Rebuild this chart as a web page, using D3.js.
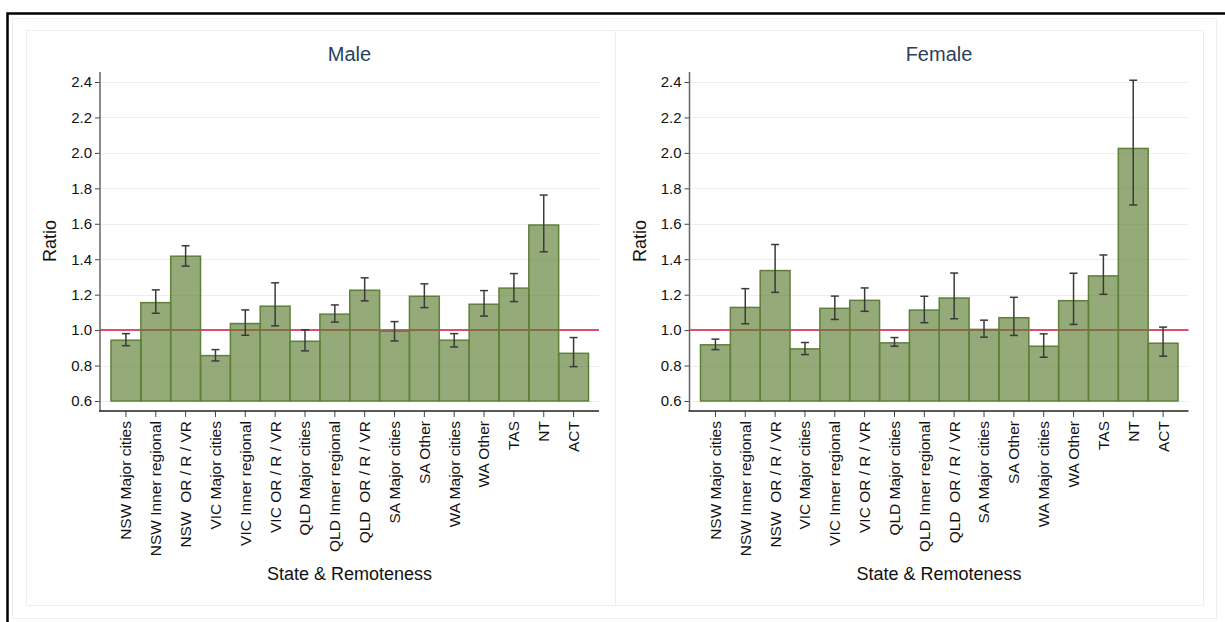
<!DOCTYPE html>
<html>
<head>
<meta charset="utf-8">
<script src="https://cdn.jsdelivr.net/npm/d3@7"></script>
<style>
  body { margin: 0; background: #fff; }
  text { font-family: Arial, "Liberation Sans", sans-serif; }
</style>
</head>
<body>
<div id="chart"></div>
<script>
// categories and values
var categories = ["NSW Major cities", "NSW Inner regional", "NSW  OR / R / VR", "VIC Major cities",
  "VIC Inner regional", "VIC OR / R / VR", "QLD Major cities", "QLD Inner regional",
  "QLD  OR / R / VR", "SA Major cities", "SA Other", "WA Major cities", "WA Other", "TAS", "NT", "ACT"];

var maleRatio = [0.943, 1.155, 1.417, 0.856, 1.037, 1.135, 0.937, 1.090, 1.225, 0.994, 1.191, 0.943, 1.146, 1.237, 1.593, 0.869];
var maleLower = [0.912, 1.095, 1.361, 0.826, 0.971, 1.024, 0.883, 1.045, 1.165, 0.939, 1.127, 0.905, 1.079, 1.161, 1.442, 0.794];
var maleUpper = [0.980, 1.227, 1.476, 0.890, 1.114, 1.267, 1.002, 1.142, 1.295, 1.048, 1.261, 0.980, 1.223, 1.319, 1.762, 0.958];

var femaleRatio = [0.917, 1.128, 1.336, 0.894, 1.123, 1.168, 0.928, 1.113, 1.181, 1.004, 1.070, 0.909, 1.166, 1.306, 2.025, 0.926];
var femaleLower = [0.890, 1.036, 1.213, 0.862, 1.060, 1.106, 0.909, 1.042, 1.064, 0.960, 0.970, 0.847, 1.032, 1.202, 1.706, 0.853];
var femaleUpper = [0.949, 1.234, 1.483, 0.930, 1.192, 1.238, 0.958, 1.191, 1.322, 1.056, 1.185, 0.979, 1.321, 1.424, 2.410, 1.017];

var yTicks = [0.6, 0.8, 1.0, 1.2, 1.4, 1.6, 1.8, 2.0, 2.2, 2.4];
var refValue = 1.0;

var width = 1225, height = 622;

var svg = d3.select("#chart")
  .append("svg")
  .attr("width", width)
  .attr("height", height);

// frames
svg.append("rect")
  .attr("x", 12.5).attr("y", 18.5).attr("width", 1204).attr("height", 600)
  .attr("fill", "none").attr("stroke", "#eaf0f0");
svg.append("rect")
  .attr("x", 26.5).attr("y", 30.5).attr("width", 1177).attr("height", 575)
  .attr("fill", "none").attr("stroke", "#eaf0f0");
svg.append("line")
  .attr("x1", 615.5).attr("x2", 615.5).attr("y1", 30.5).attr("y2", 605.5)
  .attr("stroke", "#eaf0f0");
svg.append("path")
  .attr("d", "M7.5,622 V13.5 H1225")
  .attr("fill", "none").attr("stroke", "#000").attr("stroke-width", 2.5);

function drawPanel(x0, title, ratio, lower, upper) {
  var plotW = 499;
  var g = svg.append("g");

  var y = d3.scaleLinear().domain([0.6, 2.4]).range([401, 82]);
  var x = d3.scaleBand()
    .domain(categories)
    .range([x0 + 11, x0 + 488.5])
    .paddingInner(0).paddingOuter(0);

  var data = categories.map(function(c, i) {
    return {cat: c, v: ratio[i], lo: lower[i], hi: upper[i]};
  });

  // grid
  g.selectAll(".grid")
    .data(yTicks)
    .enter()
    .append("line")
    .attr("x1", x0).attr("x2", x0 + plotW)
    .attr("y1", function(d) { return Math.round(y(d)) + 0.5; })
    .attr("y2", function(d) { return Math.round(y(d)) + 0.5; })
    .attr("stroke", "#eeeeee").attr("stroke-width", 1.2);

  // reference line
  g.append("line")
    .attr("x1", x0).attr("x2", x0 + plotW)
    .attr("y1", y(refValue)).attr("y2", y(refValue))
    .attr("stroke", "#dc143c").attr("stroke-width", 1.5);

  // bars
  g.selectAll(".bar")
    .data(data)
    .enter()
    .append("rect")
    .attr("x", function(d) { return x(d.cat); })
    .attr("y", function(d) { return y(d.v); })
    .attr("width", x.bandwidth())
    .attr("height", function(d) { return y(0.6) - y(d.v); })
    .attr("fill", "#5a7d2f").attr("fill-opacity", 0.65)
    .attr("stroke", "#5f7f3a").attr("stroke-width", 1.5);

  // error bars
  var cap = 4;
  var eb = g.selectAll(".err")
    .data(data)
    .enter()
    .append("g")
    .attr("stroke", "#3a3a3a").attr("stroke-width", 1.5);
  eb.append("line")
    .attr("x1", function(d) { return x(d.cat) + x.bandwidth() / 2; })
    .attr("x2", function(d) { return x(d.cat) + x.bandwidth() / 2; })
    .attr("y1", function(d) { return y(d.lo); })
    .attr("y2", function(d) { return y(d.hi); });
  eb.append("line")
    .attr("x1", function(d) { return x(d.cat) + x.bandwidth() / 2 - cap; })
    .attr("x2", function(d) { return x(d.cat) + x.bandwidth() / 2 + cap; })
    .attr("y1", function(d) { return y(d.lo); })
    .attr("y2", function(d) { return y(d.lo); });
  eb.append("line")
    .attr("x1", function(d) { return x(d.cat) + x.bandwidth() / 2 - cap; })
    .attr("x2", function(d) { return x(d.cat) + x.bandwidth() / 2 + cap; })
    .attr("y1", function(d) { return y(d.hi); })
    .attr("y2", function(d) { return y(d.hi); });

  // y axis
  var yAxis = g.append("g")
    .attr("transform", "translate(" + x0 + ",0)")
    .call(d3.axisLeft(y).tickValues(yTicks).tickFormat(d3.format(".1f")).tickSize(5).tickPadding(3));
  yAxis.select(".domain").remove();
  yAxis.selectAll("text").style("font-size", "15px").attr("fill", "#111");
  yAxis.selectAll(".tick line").attr("stroke", "#444");
  g.append("line")
    .attr("x1", x0).attr("x2", x0).attr("y1", 72).attr("y2", 411)
    .attr("stroke", "#666").attr("stroke-width", 1.5);

  // x axis
  var xAxis = g.append("g")
    .attr("transform", "translate(0,411)")
    .call(d3.axisBottom(x).tickSize(6).tickPadding(4));
  xAxis.select(".domain").remove();
  xAxis.selectAll(".tick line").attr("stroke", "#444");
  xAxis.selectAll("text")
    .style("font-size", "15.5px")
    .attr("fill", "#111")
    .attr("transform", "rotate(-90)")
    .attr("x", -10)
    .attr("y", 0)
    .attr("dy", "0.35em")
    .style("text-anchor", "end")
    .style("white-space", "pre");
  g.append("line")
    .attr("x1", x0 - 1).attr("x2", x0 + plotW).attr("y1", 411).attr("y2", 411)
    .attr("stroke", "#222").attr("stroke-width", 1.5);

  // titles
  g.append("text")
    .attr("x", x0 + 249.5).attr("y", 61)
    .attr("text-anchor", "middle")
    .style("font-size", "20px")
    .attr("fill", "#2a3f5f")
    .text(title);
  g.append("text")
    .attr("transform", "translate(" + (x0 - 44) + "," + 241 + ")rotate(-90)")
    .attr("text-anchor", "middle")
    .style("font-size", "18px")
    .attr("fill", "#111")
    .text("Ratio");
  g.append("text")
    .attr("x", x0 + 249.5).attr("y", 580)
    .attr("text-anchor", "middle")
    .style("font-size", "18px")
    .attr("fill", "#111")
    .text("State & Remoteness");
}

drawPanel(100, "Male", maleRatio, maleLower, maleUpper);
drawPanel(689.5, "Female", femaleRatio, femaleLower, femaleUpper);
</script>
</body>
</html>
